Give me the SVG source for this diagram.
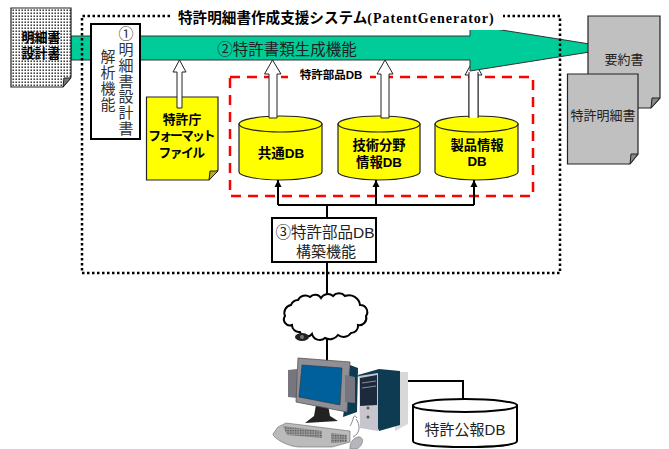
<svg xmlns="http://www.w3.org/2000/svg" width="669" height="449" viewBox="0 0 669 449">
<style>
text{font-family:"Liberation Sans","Noto Sans CJK JP",sans-serif;fill:#222;text-anchor:middle}
.b{font-weight:700;fill:#000}
.doc{stroke:#222;stroke-width:1.2}
.fold{stroke:#222;stroke-width:1}
.cyl{fill:#ff0;stroke:#222;stroke-width:1.2}
.hollow{fill:#fff;stroke:#222;stroke-width:1}
.wire{fill:none;stroke:#000;stroke-width:2}
.box{fill:#fff;stroke:#000;stroke-width:2}
.v{writing-mode:vertical-rl;text-anchor:start;font-size:15px;fill:#333}
</style>
<defs>
<pattern id="dots" width="3" height="3" patternUnits="userSpaceOnUse"><rect width="3" height="3" fill="#fff"/><rect x="0.5" y="0.5" width="1.4" height="1.4" fill="#111"/></pattern>
<pattern id="keys" width="2.500" height="2.500" patternUnits="userSpaceOnUse"><rect width="2.500" height="2.500" fill="#999"/><rect width="1.300" height="1.300" fill="#555"/></pattern>
<marker id="tip" markerUnits="userSpaceOnUse" markerWidth="8" markerHeight="8" refX="7" refY="4" orient="auto"><path d="M0 .5L7 4L0 7.500Z" fill="#000"/></marker>
</defs>
<rect width="669" height="449" fill="#fff"/>

<g id="product-feed"><path class="hollow" d="M469 118V75H465L473.500 60L482 75H478V118Z"/></g>

<g id="generator-arrow"><path d="M71 36H470V25L615 48L470 71V60H71Z" fill="#00cc99" stroke="#333" stroke-width="1"/><text x="287" y="55" font-size="15.500">②特許書類生成機能</text></g>

<g id="system-frame">
<rect x="170" y="8" width="333" height="22" fill="#fff"/>
<path d="M170 16H82V273H560V16H503" fill="none" stroke="#000" stroke-width="2.500" stroke-dasharray="2.500 2.500"/>
<text class="b" x="178" y="23" font-size="14.600" style="text-anchor:start">特許明細書作成支援システム<tspan font-family="Liberation Serif" font-size="14" letter-spacing="1">(PatentGenerator)</tspan></text>
</g>

<g id="design-doc"><path class="doc" d="M11 8H71V77L63 87H11Z" fill="url(#dots)"/><path class="fold" d="M64 78H71L63 87Z" fill="#777"/>
<text class="b" x="41" font-size="13"><tspan x="41" y="42">明細書</tspan><tspan x="41" y="58">設計書</tspan></text></g>

<g id="parse-function"><rect class="box" x="91" y="24" width="49" height="115"/>
<text class="v" x="125" y="26" style="letter-spacing:.8px">①明細書設計書</text>
<text class="v" x="107" y="49" style="letter-spacing:1px">解析機能</text></g>

<g id="format-file"><path class="doc" d="M146.500 97H218V170L209 180H146.500Z" fill="#ff0"/><path class="fold" d="M210 171H218L209 180Z" fill="#b5a82a"/>
<text class="b" font-size="12.800"><tspan x="182" y="124">特許庁</tspan><tspan x="181" y="140" letter-spacing="-1.900">フォーマット</tspan><tspan x="181" y="157" letter-spacing="-1.500">ファイル</tspan></text></g>

<g id="parts-db"><rect x="230" y="77" width="303" height="119" fill="none" stroke="#f00" stroke-width="2.500" stroke-dasharray="10 7"/>
<rect x="288" y="68" width="82" height="14" fill="#fff"/>
<text class="b" x="331" y="79" font-size="11.500">特許部品DB</text></g>

<g id="common-db"><path class="cyl" d="M239 124V172C239 176 258 180 280.500 180S322 176 322 172V124Z"/><ellipse class="cyl" cx="280.500" cy="124" rx="41.500" ry="8"/><text class="b" x="281" y="158" font-size="13.500">共通DB</text></g>
<g id="tech-db"><path class="cyl" d="M338 124V172C338 176 357 180 379 180S420 176 420 172V124Z"/><ellipse class="cyl" cx="379" cy="124" rx="41" ry="8"/><text class="b" font-size="13.300"><tspan x="379" y="150">技術分野</tspan><tspan x="379" y="167">情報DB</tspan></text></g>
<g id="product-db"><path class="cyl" d="M435 124V172C435 176 454 180 476.500 180S518 176 518 172V124Z"/><ellipse class="cyl" cx="476.500" cy="124" rx="41.500" ry="8"/><text class="b" font-size="13.300"><tspan x="477" y="150">製品情報</tspan><tspan x="477" y="166">DB</tspan></text></g>

<g id="connectors">
<path class="hollow" d="M177 108V72H173L179.500 60L186 72H182V108Z"/>
<path class="hollow" d="M269 118V74H264.500L272.500 60L281 74H277V118Z"/>
<path class="hollow" d="M381 118V74H377L385 60L393 74H389V118Z"/>
<rect x="469" y="72" width="9" height="46" fill="#fff"/>
<path d="M469 118V72M478 118V72" stroke="#222" fill="none"/>
<path class="wire" d="M278 205H474M327 205V218M327 262V295M327 337V362M393 381H463V403"/>
<path class="wire" marker-end="url(#tip)" d="M278 205V180"/>
<path class="wire" marker-end="url(#tip)" d="M376 205V180"/>
<path class="wire" marker-end="url(#tip)" d="M474 205V180"/>
</g>

<g id="db-builder"><rect class="box" x="272" y="218" width="104" height="44"/><text font-size="15.500" fill="#333"><tspan x="325" y="238">③特許部品DB</tspan><tspan x="326" y="257" font-size="15">構築機能</tspan></text></g>

<g id="summary-doc"><path class="doc" d="M588 16H660V98L651 108H588Z" fill="#c0c0c0"/><path class="fold" d="M652 98H660L651 108Z" fill="#888"/></g>
<g id="spec-doc"><path class="doc" d="M567.500 74H638V154L630 164H567.500Z" fill="#c0c0c0"/><path class="fold" d="M631 154H638L630 164Z" fill="#888"/><text x="603" y="120" font-size="13">特許明細書</text></g>
<text x="624" y="64" font-size="13">要約書</text>

<g id="network-cloud"><path d="M285 316A8 8 0 0 1 291 305A8 8 0 0 1 298 300A8 8 0 0 1 310 297A7 7 0 0 1 321 298A8 8 0 0 1 333 296A8 8 0 0 1 345 296A11 11 0 0 1 360 305A7 7 0 0 1 366 316A7 7 0 0 1 358 325A7 7 0 0 1 351 333A9 9 0 0 1 338 335A10 10 0 0 1 325 338A8 8 0 0 1 312 334A7 7 0 0 1 300 332A7 7 0 0 1 292 325A6 6 0 0 1 285 316Z" fill="#fff" stroke="#000" stroke-width="2"/>
<ellipse cx="302" cy="337" rx="7" ry="4" fill="#222"/><circle cx="302" cy="337" r="2" fill="#777"/></g>

<g id="workstation">
<path d="M395 372H408V424L395 431Z" fill="#d8d8d8"/>
<path d="M358 375L379 369L400 371V425L379 431Z" fill="#0e3a52"/>
<path d="M359 376L378 373V431L360 428Z" fill="#c9c5cf"/>
<path d="M360 378L377 375V405L360 406Z" fill="#1c2a3c"/>
<path d="M362 383L376 381M362 388L376 386" stroke="#8a8f96"/>
<circle cx="368" cy="408" r="1.500" fill="#555"/><circle cx="368" cy="417" r="1.500" fill="#555"/>
<path d="M350 365L358 368L357 412L343 417Z" fill="#0e3a52"/>
<path d="M288 370L297 369L297 398L288 397Z" fill="#77757d"/>
<path d="M316 405L328 405L330 416L338 421L305 423L314 416Z" fill="#222"/>
<path d="M298 358L350 362L347 412L296 402Z" fill="#8f8f95" stroke="#555" stroke-width=".8"/>
<path d="M302 365L342 368L340 405L299 397Z" fill="#00609c" stroke="#333" stroke-width=".6"/>
<path d="M345 375L355 377L355 403L345 402Z" fill="#77757d"/>
<path d="M278 427L286 423L350 431V442L332 447H300C288 447 273 438 273 434Z" fill="#bbb" stroke="#666" stroke-width=".6"/>
<path d="M283 426L322 431V438L287 435Z" fill="url(#keys)"/>
<path d="M331 433L347 435V442L331 443Z" fill="url(#keys)"/>
<path d="M350 426C354 420 353 412 357 418M353 437C361 433 360 424 356 419" fill="none" stroke="#888"/>
<path d="M350 447C350 441 356 436 360 437C365 439 362 446 357 449H350Z" fill="#b5b5bb" stroke="#777" stroke-width=".6"/>
</g>

<g id="publication-db"><path d="M413 405.500V441C413 445 436 447 465 447S517 445 517 441V405.500Z" fill="#fff" stroke="#000" stroke-width="2"/><ellipse cx="465" cy="405.500" rx="52" ry="6.500" fill="#fff" stroke="#000" stroke-width="2"/><text x="465" y="435" font-size="15">特許公報DB</text></g>
</svg>
